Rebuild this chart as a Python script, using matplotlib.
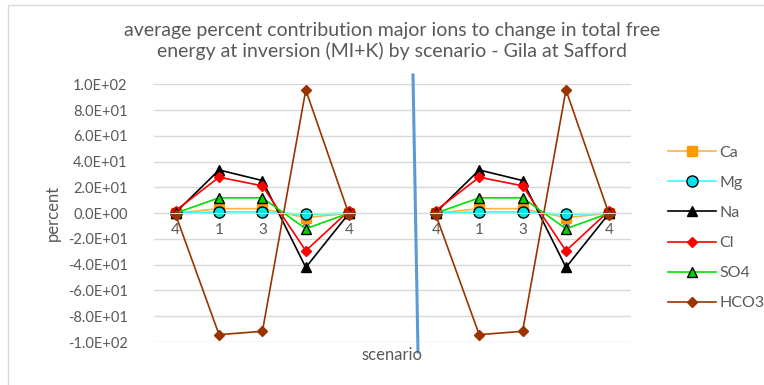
import matplotlib.pyplot as plt
import numpy as np
from matplotlib.patches import Rectangle
from matplotlib.lines import Line2D

plt.rcParams['font.family'] = ['Lato', 'DejaVu Sans']

# categories (blank slot between the two groups)
scenarios = ['4', '1', '3', '2', '4', '', '4', '1', '3', '2', '4']

ca = [0.0, 3.5, 3.5, -3.5, 0.0]
mg = [0.0, 1.0, 1.0, -1.0, 0.0]
na = [0.5, 33.5, 25.3, -42.1, 0.0]
cl = [2.0, 27.9, 21.2, -29.2, 2.0]
so4 = [0.0, 11.9, 11.9, -12.1, 0.0]
hco3 = [-1.3, -94.3, -91.7, 95.6, -1.3]

series_names = ['Ca', 'Mg', 'Na', 'Cl', 'SO4', 'HCO3']
series_vals = [ca, mg, na, cl, so4, hco3]

styles = {
    'Ca':   dict(color='#FFB347', marker='s', mfc='#FF9900', mec='#FF9900', ms=7),
    'Mg':   dict(color='#33FFFF', marker='o', mfc='#00E5EE', mec='black', ms=8, mew=1),
    'Na':   dict(color='black', marker='^', mfc='black', mec='black', ms=7.5),
    'Cl':   dict(color='#FF0000', marker='D', mfc='#FF0000', mec='#FF0000', ms=5),
    'SO4':  dict(color='#00E000', marker='^', mfc='#00D000', mec='black', ms=7.5, mew=1),
    'HCO3': dict(color='#993300', marker='D', mfc='#993300', mec='#993300', ms=5),
}

grey = '#595959'

fig = plt.figure(figsize=(7.64, 3.85), dpi=100)
ax = fig.add_axes([154 / 764, 1 - 342 / 385, 477 / 764, (342 - 84.3) / 385])

x = np.arange(len(scenarios))
for name, vals in zip(series_names, series_vals):
    y = np.array(vals + [np.nan] + vals, dtype=float)
    ax.plot(x, y, lw=1.2, label=name, **styles[name])

ax.set_xlim(-0.5, len(scenarios) - 0.5)
ax.set_ylim(-100, 100)
ax.set_yticks(np.arange(-100, 101, 20))
ax.set_yticklabels(['%.1E' % v for v in np.arange(-100, 101, 20)])
ax.yaxis.grid(True, color='#D9D9D9', lw=1)
ax.set_axisbelow(True)
for s in ['top', 'right', 'left']:
    ax.spines[s].set_visible(False)
ax.spines['bottom'].set_position(('data', 0))
ax.spines['bottom'].set_color('#D9D9D9')
ax.set_xticks(x)
ax.set_xticklabels(scenarios)
ax.tick_params(axis='x', length=0, pad=7, labelsize=11, labelcolor=grey)
ax.tick_params(axis='y', length=0, pad=19, labelsize=10.5, labelcolor=grey)

ax.set_ylabel('percent', fontsize=12, color=grey, labelpad=5)
fig.text(392 / 764, 1 - 355 / 385, 'scenario', fontsize=12, color=grey,
         ha='center', va='center')

fig.text(392 / 764, 1 - 41 / 385,
         'average percent contribution major ions to change in total free\n'
         'energy at inversion (MI+K) by scenario - Gila at Safford',
         fontsize=14, color=grey, ha='center', va='center', linespacing=1.2)

# vertical divider drawn on the chart
fig.add_artist(Line2D([413 / 764, 418 / 764], [1 - 75 / 385, 1 - 352 / 385],
                      color='#5B9BD5', lw=2.2, transform=fig.transFigure))

# chart border
fig.add_artist(Rectangle((8 / 764, -0.05), 1.0, 1 - 5 / 385 + 0.05,
                         fill=False, edgecolor='#D9D9D9', lw=1,
                         transform=fig.transFigure))

leg = fig.legend(loc='center left', bbox_to_anchor=(654 / 764, 1 - 228 / 385),
                 frameon=False, fontsize=11.5, labelspacing=1.0,
                 handlelength=3.0, handletextpad=0.2)
for t in leg.get_texts():
    t.set_color(grey)

fig.savefig('out.png', dpi=100)
